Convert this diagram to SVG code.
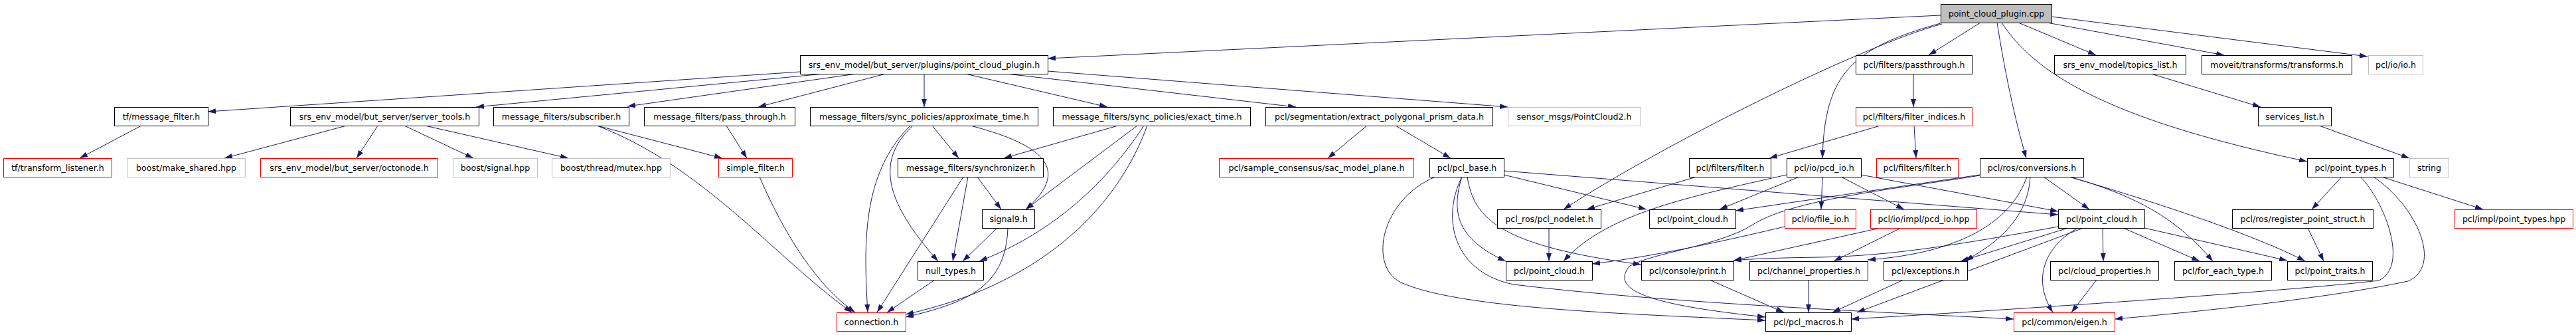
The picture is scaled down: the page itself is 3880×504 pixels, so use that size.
<svg xmlns="http://www.w3.org/2000/svg" width="3880" height="504" viewBox="0 0 3880 504">
<style>
.node rect{fill:#ffffff;stroke:#000000;stroke-width:1}
.node.red rect{stroke:#ff0000}
.node.gray rect{stroke:#bfbfbf}
.node.root rect{fill:#bfbfbf}
.node text{font-family:"DejaVu Sans","Liberation Sans",sans-serif;font-size:12.6px;text-anchor:middle;fill:#000000}
.edges path{fill:none;stroke:#191970;stroke-width:1;marker-end:url(#arr)}
</style>
<defs>
<marker id="arr" markerWidth="12" markerHeight="8" refX="12" refY="4" orient="auto" markerUnits="userSpaceOnUse"><path d="M0,0 L12,4 L0,8 z" fill="#191970" stroke="none"/></marker>
</defs>
<rect x="0" y="0" width="3880" height="504" fill="#ffffff"/>
<g id="edges" class="edges">
<path d="M2923,23 L1578,88"/>
<path d="M2983,34 L2905,83"/>
<path d="M2923,35 C2790,72 2748,110 2745,238"/>
<path d="M2925,36 C2800,70 2500,220 2355,315"/>
<path d="M3008,34 C3020,110 3035,180 3052,238"/>
<path d="M3015,34 C3070,120 3200,185 3475,243"/>
<path d="M3040,34 L3157,83"/>
<path d="M3083,34 L3350,83"/>
<path d="M3090,25 L3566,85"/>
<path d="M1205,108 L313,168"/>
<path d="M1241,111 L717,161"/>
<path d="M1290,111 L945,160"/>
<path d="M1334,111 L1142,161"/>
<path d="M1392,111 L1392,161"/>
<path d="M1454,111 L1668,161"/>
<path d="M1516,111 L1952,161"/>
<path d="M1578,107 L2271,161"/>
<path d="M213,189 L120,238"/>
<path d="M522,189 L338,238"/>
<path d="M569,189 L537,238"/>
<path d="M609,189 L713,238"/>
<path d="M640,189 L856,238"/>
<path d="M899,189 L1088,238"/>
<path d="M899,189 C1060,250 1170,390 1283,470"/>
<path d="M1094,189 L1125,238"/>
<path d="M1144,266 C1180,350 1230,430 1288,470"/>
<path d="M1404,189 L1444,238"/>
<path d="M1462,189 C1560,215 1620,250 1545,315"/>
<path d="M1375,189 C1320,240 1330,300 1413,393"/>
<path d="M1371,189 C1300,260 1300,360 1307,470"/>
<path d="M1684,189 L1512,238"/>
<path d="M1713,189 L1545,315"/>
<path d="M1723,189 C1650,300 1560,360 1475,393"/>
<path d="M1728,189 C1680,320 1560,430 1364,473"/>
<path d="M1472,266 L1508,315"/>
<path d="M1458,266 L1435,393"/>
<path d="M1451,266 L1321,470"/>
<path d="M1502,343 L1450,393"/>
<path d="M1518,343 C1515,430 1460,455 1364,477"/>
<path d="M1408,421 L1336,470"/>
<path d="M2059,189 L2000,238"/>
<path d="M2102,189 L2185,238"/>
<path d="M2265,257 L3100,323"/>
<path d="M2265,263 L2480,315"/>
<path d="M2202,266 C2185,320 2195,360 2268,393"/>
<path d="M2210,266 C2220,330 2260,370 2472,398"/>
<path d="M2202,266 C2170,330 2190,410 2280,428 C2500,455 2800,468 3033,480"/>
<path d="M2162,266 C2080,300 2060,400 2110,425 C2200,465 2450,472 2659,482"/>
<path d="M2555,266 L2390,315"/>
<path d="M2832,189 L2665,238"/>
<path d="M2883,189 L2886,238"/>
<path d="M2882,111 L2882,161"/>
<path d="M2333,343 L2333,393"/>
<path d="M2710,266 L2590,315"/>
<path d="M2691,263 C2550,295 2420,320 2355,393"/>
<path d="M2745,266 L2743,315"/>
<path d="M2773,266 L2868,315"/>
<path d="M2803,263 L3100,318"/>
<path d="M2688,341 C2620,357 2500,385 2398,397"/>
<path d="M2832,343 L2611,392"/>
<path d="M2863,343 L2762,393"/>
<path d="M2982,263 L2614,317"/>
<path d="M2982,264 C2850,285 2700,300 2640,338 C2590,370 2490,380 2455,400 C2420,440 2500,460 2659,477"/>
<path d="M3053,266 C3030,330 2960,380 2813,391"/>
<path d="M3058,266 C3055,320 3020,360 2960,392"/>
<path d="M3078,266 L3147,315"/>
<path d="M3117,266 C3220,295 3280,330 3333,393"/>
<path d="M3117,266 C3250,305 3400,355 3472,393"/>
<path d="M3100,341 C2950,368 2850,385 2740,387 C2680,388 2640,389 2611,392"/>
<path d="M3115,343 L2953,393"/>
<path d="M3138,343 L2797,470"/>
<path d="M3130,343 C3080,370 3060,420 3092,470"/>
<path d="M3167,343 L3168,393"/>
<path d="M3198,343 L3313,393"/>
<path d="M3230,343 L3445,392"/>
<path d="M3158,421 L3120,470"/>
<path d="M3527,266 L3482,315"/>
<path d="M3587,266 L3740,315"/>
<path d="M3555,266 C3590,300 3630,400 3583,422 C3450,438 3000,468 2788,480"/>
<path d="M3575,266 C3640,310 3680,400 3627,423 C3500,450 3300,470 3185,480"/>
<path d="M3476,343 L3500,393"/>
<path d="M3240,111 L3405,161"/>
<path d="M3493,189 L3629,238"/>
<path d="M2724,421 L2724,470"/>
<path d="M2867,421 L2760,470"/>
<path d="M2575,421 L2687,470"/>
</g>
<g id="n_root" class="node root"><rect x="2923.5" y="6.5" width="167" height="28"/><text x="3007" y="25">point_cloud_plugin.cpp</text></g>
<g id="n_point_cloud_plugin_h" class="node"><rect x="1205.5" y="83.5" width="373" height="28"/><text x="1392" y="102">srs_env_model/but_server/plugins/point_cloud_plugin.h</text></g>
<g id="n_passthrough" class="node"><rect x="2795.5" y="83.5" width="175" height="28"/><text x="2883" y="102">pcl/filters/passthrough.h</text></g>
<g id="n_topics_list" class="node"><rect x="3094.5" y="83.5" width="198" height="28"/><text x="3193.5" y="102">srs_env_model/topics_list.h</text></g>
<g id="n_transforms" class="node"><rect x="3316.5" y="83.5" width="226" height="28"/><text x="3429.5" y="102">moveit/transforms/transforms.h</text></g>
<g id="n_io" class="node gray"><rect x="3567.5" y="83.5" width="82" height="28"/><text x="3608.5" y="102">pcl/io/io.h</text></g>
<g id="n_tf_message_filter" class="node"><rect x="172.5" y="161.5" width="141" height="28"/><text x="243" y="180">tf/message_filter.h</text></g>
<g id="n_server_tools" class="node"><rect x="437.5" y="161.5" width="284" height="28"/><text x="579.5" y="180">srs_env_model/but_server/server_tools.h</text></g>
<g id="n_subscriber" class="node"><rect x="743.5" y="161.5" width="204" height="28"/><text x="845.5" y="180">message_filters/subscriber.h</text></g>
<g id="n_pass_through" class="node"><rect x="970.5" y="161.5" width="227" height="28"/><text x="1084" y="180">message_filters/pass_through.h</text></g>
<g id="n_approximate_time" class="node"><rect x="1220.5" y="161.5" width="343" height="28"/><text x="1392" y="180">message_filters/sync_policies/approximate_time.h</text></g>
<g id="n_exact_time" class="node"><rect x="1586.5" y="161.5" width="297" height="28"/><text x="1735" y="180">message_filters/sync_policies/exact_time.h</text></g>
<g id="n_extract" class="node"><rect x="1906.5" y="161.5" width="342" height="28"/><text x="2077.5" y="180">pcl/segmentation/extract_polygonal_prism_data.h</text></g>
<g id="n_pointcloud2" class="node gray"><rect x="2271.5" y="161.5" width="199" height="28"/><text x="2371" y="180">sensor_msgs/PointCloud2.h</text></g>
<g id="n_filter_indices" class="node red"><rect x="2795.5" y="161.5" width="175" height="28"/><text x="2883" y="180">pcl/filters/filter_indices.h</text></g>
<g id="n_services_list" class="node"><rect x="3401.5" y="161.5" width="110" height="28"/><text x="3456.5" y="180">services_list.h</text></g>
<g id="n_transform_listener" class="node red"><rect x="5.5" y="238.5" width="163" height="28"/><text x="87" y="257">tf/transform_listener.h</text></g>
<g id="n_make_shared" class="node gray"><rect x="191.5" y="238.5" width="178" height="28"/><text x="280.5" y="257">boost/make_shared.hpp</text></g>
<g id="n_octonode" class="node red"><rect x="392.5" y="238.5" width="267" height="28"/><text x="526" y="257">srs_env_model/but_server/octonode.h</text></g>
<g id="n_boost_signal" class="node gray"><rect x="682.5" y="238.5" width="127" height="28"/><text x="746" y="257">boost/signal.hpp</text></g>
<g id="n_mutex" class="node gray"><rect x="831.5" y="238.5" width="178" height="28"/><text x="920.5" y="257">boost/thread/mutex.hpp</text></g>
<g id="n_simple_filter" class="node red"><rect x="1082.5" y="238.5" width="111" height="28"/><text x="1138" y="257">simple_filter.h</text></g>
<g id="n_synchronizer" class="node"><rect x="1352.5" y="238.5" width="219" height="28"/><text x="1462" y="257">message_filters/synchronizer.h</text></g>
<g id="n_sac_model_plane" class="node red"><rect x="1836.5" y="238.5" width="293" height="28"/><text x="1983" y="257">pcl/sample_consensus/sac_model_plane.h</text></g>
<g id="n_pcl_base" class="node"><rect x="2153.5" y="238.5" width="112" height="28"/><text x="2209.5" y="257">pcl/pcl_base.h</text></g>
<g id="n_filter" class="node"><rect x="2544.5" y="238.5" width="123" height="28"/><text x="2606" y="257">pcl/filters/filter.h</text></g>
<g id="n_pcd_io" class="node"><rect x="2691.5" y="238.5" width="112" height="28"/><text x="2747.5" y="257">pcl/io/pcd_io.h</text></g>
<g id="n_filter_red" class="node red"><rect x="2826.5" y="238.5" width="123" height="28"/><text x="2888" y="257">pcl/filters/filter.h</text></g>
<g id="n_conversions" class="node"><rect x="2982.5" y="238.5" width="156" height="28"/><text x="3060.5" y="257">pcl/ros/conversions.h</text></g>
<g id="n_point_types" class="node"><rect x="3475.5" y="238.5" width="130" height="28"/><text x="3540.5" y="257">pcl/point_types.h</text></g>
<g id="n_string" class="node gray"><rect x="3629.5" y="238.5" width="59" height="28"/><text x="3659" y="257">string</text></g>
<g id="n_signal9" class="node"><rect x="1479.5" y="315.5" width="79" height="28"/><text x="1519" y="334">signal9.h</text></g>
<g id="n_pcl_nodelet" class="node"><rect x="2255.5" y="315.5" width="156" height="28"/><text x="2333.5" y="334">pcl_ros/pcl_nodelet.h</text></g>
<g id="n_point_cloud_a" class="node"><rect x="2484.5" y="315.5" width="130" height="28"/><text x="2549.5" y="334">pcl/point_cloud.h</text></g>
<g id="n_file_io" class="node red"><rect x="2688.5" y="315.5" width="107" height="28"/><text x="2742" y="334">pcl/io/file_io.h</text></g>
<g id="n_pcd_io_hpp" class="node red"><rect x="2817.5" y="315.5" width="160" height="28"/><text x="2897.5" y="334">pcl/io/impl/pcd_io.hpp</text></g>
<g id="n_point_cloud_b" class="node"><rect x="3100.5" y="315.5" width="130" height="28"/><text x="3165.5" y="334">pcl/point_cloud.h</text></g>
<g id="n_register_point_struct" class="node"><rect x="3362.5" y="315.5" width="212" height="28"/><text x="3468.5" y="334">pcl/ros/register_point_struct.h</text></g>
<g id="n_impl_point_types" class="node red"><rect x="3697.5" y="315.5" width="178" height="28"/><text x="3786.5" y="334">pcl/impl/point_types.hpp</text></g>
<g id="n_null_types" class="node"><rect x="1382.5" y="393.5" width="99" height="28"/><text x="1432" y="412">null_types.h</text></g>
<g id="n_point_cloud_c" class="node"><rect x="2268.5" y="393.5" width="130" height="28"/><text x="2333.5" y="412">pcl/point_cloud.h</text></g>
<g id="n_print" class="node"><rect x="2472.5" y="393.5" width="139" height="28"/><text x="2542" y="412">pcl/console/print.h</text></g>
<g id="n_channel_properties" class="node"><rect x="2635.5" y="393.5" width="178" height="28"/><text x="2724.5" y="412">pcl/channel_properties.h</text></g>
<g id="n_exceptions" class="node"><rect x="2837.5" y="393.5" width="126" height="28"/><text x="2900.5" y="412">pcl/exceptions.h</text></g>
<g id="n_cloud_properties" class="node"><rect x="3088.5" y="393.5" width="163" height="28"/><text x="3170" y="412">pcl/cloud_properties.h</text></g>
<g id="n_for_each_type" class="node"><rect x="3275.5" y="393.5" width="146" height="28"/><text x="3348.5" y="412">pcl/for_each_type.h</text></g>
<g id="n_point_traits" class="node"><rect x="3445.5" y="393.5" width="128" height="28"/><text x="3509.5" y="412">pcl/point_traits.h</text></g>
<g id="n_connection" class="node red"><rect x="1260.5" y="470.5" width="104" height="28"/><text x="1312.5" y="489">connection.h</text></g>
<g id="n_pcl_macros" class="node"><rect x="2659.5" y="470.5" width="129" height="28"/><text x="2724" y="489">pcl/pcl_macros.h</text></g>
<g id="n_eigen" class="node red"><rect x="3033.5" y="470.5" width="152" height="28"/><text x="3109.5" y="489">pcl/common/eigen.h</text></g>
</svg>
